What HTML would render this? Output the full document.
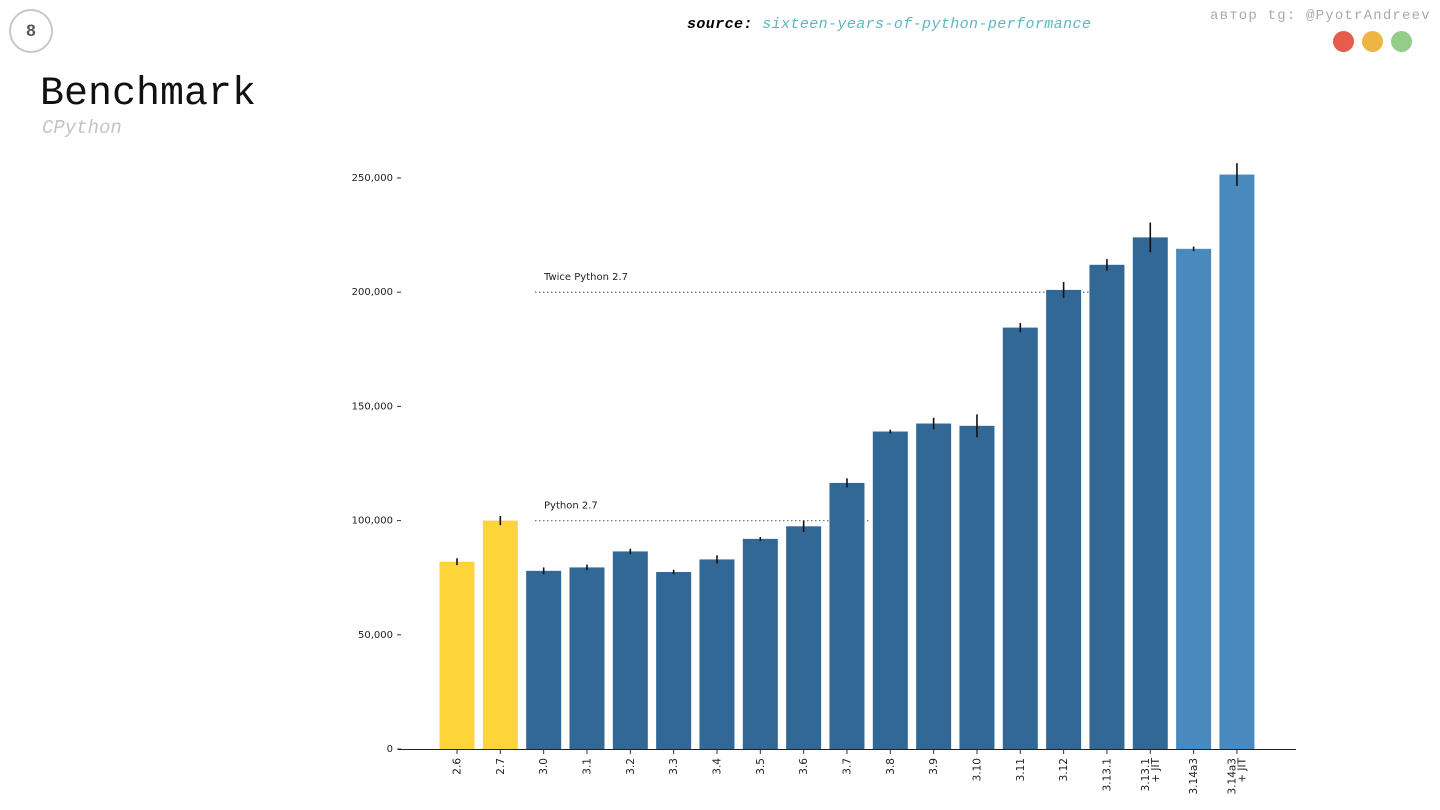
<!DOCTYPE html>
<html><head><meta charset="utf-8"><style>
body{margin:0;width:1440px;height:810px;background:#fff;overflow:hidden;position:relative;font-family:"Liberation Mono",monospace}
.a{position:absolute}
</style></head><body>
<div class="a" style="left:9px;top:9px;width:40px;height:40px;border:2px solid #c8c8c8;border-radius:50%;text-align:center;line-height:40px;font-family:'Liberation Sans',sans-serif;font-weight:bold;font-size:17px;color:#555">8</div>
<div class="a" style="left:687px;top:16px;font-size:15px;letter-spacing:0.4px"><b><i>source:</i></b> <i style="color:#5fb6c0">sixteen-years-of-python-performance</i></div>
<div class="a" style="left:1210px;top:8px;font-size:14px;letter-spacing:1.2px;color:#aaa">автор tg: @PyotrAndreev</div>
<div class="a" style="left:1333px;top:31px;width:21px;height:21px;border-radius:50%;background:#e45c4c"></div>
<div class="a" style="left:1362px;top:31px;width:21px;height:21px;border-radius:50%;background:#efb544"></div>
<div class="a" style="left:1391px;top:31px;width:21px;height:21px;border-radius:50%;background:#96cc8a"></div>
<div class="a" style="left:40px;top:72px;font-size:40px;color:#111">Benchmark</div>
<div class="a" style="left:42px;top:117px;font-size:19px;font-style:italic;color:#c4c4c4">CPython</div>
<svg class="a" style="left:0;top:0" width="1440" height="810" font-family="DejaVu Sans, sans-serif">
<g id="g"></g></svg>
<script>
const cats=["2.6","2.7","3.0","3.1","3.2","3.3","3.4","3.5","3.6","3.7","3.8","3.9","3.10","3.11","3.12","3.13.1","3.13.1\n+ JIT","3.14a3","3.14a3\n+ JIT"];
const vals=[82000,100000,78000,79500,86500,77500,83000,92000,97500,116500,139000,142500,141500,184500,201000,212000,224000,219000,251500];
const errs=[1500,2000,1500,1200,1200,1000,1800,800,2500,2000,800,2500,5000,2000,3500,2500,6500,1000,5000];
const groups=["y","y","d","d","d","d","d","d","d","d","d","d","d","d","d","d","d","l","l"];
const yTicks=[0,50000,100000,150000,200000,250000];
const refs=[{v:200000,label:"Twice Python 2.7",end:1090},{v:100000,label:"Python 2.7",end:870}];
const col={y:"#fdd53a",d:"#326896",l:"#4a89be"};
const NS="http://www.w3.org/2000/svg",g=document.getElementById("g");
const y=v=>749-v*571/250000, x=i=>457+i*43.33;
function mk(t,a){const e=document.createElementNS(NS,t);for(const k in a)e.setAttribute(k,a[k]);g.appendChild(e);return e;}
let ax=mk("line",{x1:398,x2:1296,y1:749.5,y2:749.5,stroke:"#222","stroke-width":1});


yTicks.forEach(t=>{
 const l=mk("line",{x1:397,x2:401,y1:y(t),y2:y(t),stroke:"#333"});
 
 
 const tx=mk("text",{x:393,y:y(t)+3,"text-anchor":"end","font-size":10,fill:"#222"});tx.textContent=t.toLocaleString("en-US");
 
 
});
refs.forEach(r=>{
 const l=mk("line",{x1:535,x2:r.end,y1:y(r.v),y2:y(r.v),stroke:"#777","stroke-dasharray":"1.5,2.5","stroke-width":1.3});
 
 
 const t=mk("text",{x:544,y:y(r.v)-12,"font-size":10,fill:"#222"});t.textContent=r.label;
 
 
});
cats.forEach((c,i)=>{
 const b=mk("rect",{x:x(i)-17.5,y:y(vals[i]),width:35,height:749-y(vals[i]),fill:col[groups[i]]});
 
 
 const e=mk("line",{x1:x(i),x2:x(i),y1:y(vals[i]+errs[i]),y2:y(vals[i]-errs[i]),stroke:"#111","stroke-width":1.6});
 
 
 mk("line",{x1:x(i),x2:x(i),y1:750,y2:754,stroke:"#333"});
 const lines=c.split("\n");
 lines.forEach((s,k)=>{
  const xx=x(i)+3.5+(k-(lines.length-1)/2)*10;
  const t=mk("text",{x:xx,y:758,"font-size":10.5,fill:"#222","text-anchor":"end",transform:`rotate(-90 ${xx} 758)`});t.textContent=s;
  
  
 });
});
</script>
</body></html>
